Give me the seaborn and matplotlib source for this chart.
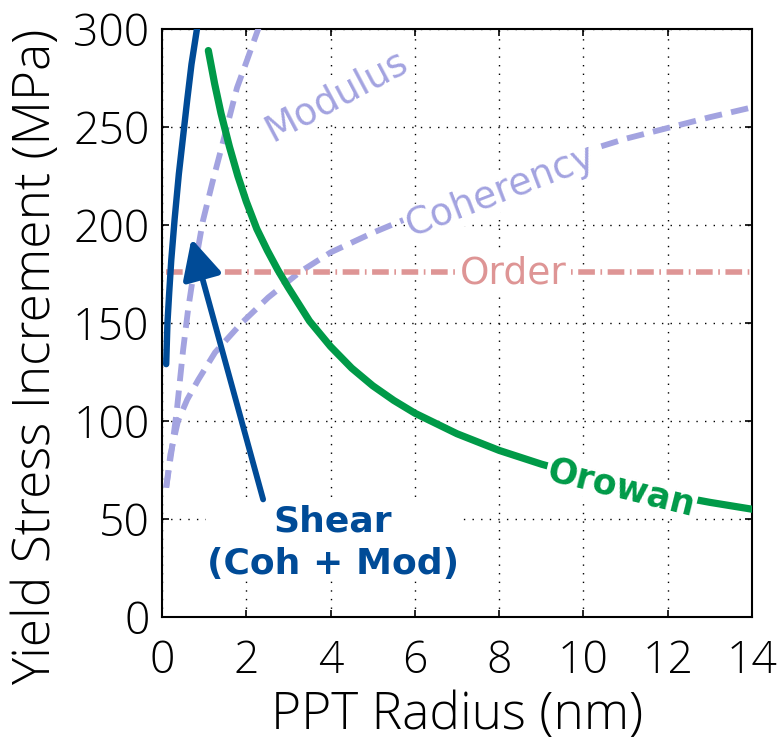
import numpy as np
import pandas as pd
import matplotlib
matplotlib.use("Agg")
import matplotlib.pyplot as plt
import seaborn as sns

# ---- data ----
shear_r = [0.10, 0.13, 0.17, 0.22, 0.30, 0.40, 0.50, 0.60, 0.70, 0.83]
shear_y = [129, 150, 165, 182, 203, 226, 245, 264, 282, 300]

modulus_r = [0.10, 0.23, 0.35, 0.50, 0.62, 0.74, 0.97, 1.20, 1.42, 1.78, 2.00, 2.30]
modulus_y = [66, 85, 105, 136, 157, 174, 202, 222, 240, 270, 283, 301]

coherency_r = [0.10, 0.20, 0.38, 0.60, 0.86, 1.26, 1.89, 2.52, 3.27, 4.0, 5.0, 6.0,
               7.0, 8.0, 9.0, 10.0, 10.4, 11.0, 12.0, 13.0, 14.0]
coherency_y = [66, 83, 100, 111, 121, 135, 150, 163, 176, 186, 196, 205,
               213, 221, 229, 237, 240, 244, 249.5, 255, 260]

order_r = [0.1, 14.0]
order_y = [176, 176]

orowan_r = [1.1, 1.25, 1.4, 1.6, 1.8, 2.0, 2.25, 2.5, 2.75, 3.0, 3.5, 4.0, 4.5,
            5.0, 5.5, 6.0, 7.0, 8.0, 9.0, 10.0, 11.0, 12.0, 13.0, 14.0]
orowan_y = [289, 272, 257, 240, 225, 212, 198, 187, 177, 168, 151, 138, 127,
            118, 110.5, 104, 93.5, 85, 78, 72, 67, 62.5, 58.5, 55]

x_ticks = [0, 2, 4, 6, 8, 10, 12, 14]
y_ticks = [0, 50, 100, 150, 200, 250, 300]

arrow_tail = (2.4, 60)
arrow_head = (0.7, 193)

# ---- colours ----
c_shear = "#004b97"
c_purple = "#a3a3e0"
c_order = "#de9595"
c_orowan = "#009a48"

sns.set_theme(style="white")
plt.rcParams["font.family"] = ["Open Sans", "DejaVu Sans"]

fig = plt.figure(figsize=(7.78, 7.53), dpi=100)
ax = fig.add_axes([0.2082, 0.1806, 0.7584, 0.7809])

def line(r, y, **kw):
    df = pd.DataFrame({"r": r, "y": y})
    sns.lineplot(data=df, x="r", y="y", ax=ax, estimator=None, sort=False, **kw)

line(modulus_r, modulus_y, color=c_purple, lw=4.2, linestyle=(0, (3.0, 1.6)), zorder=3)
line(coherency_r, coherency_y, color=c_purple, lw=4.2, linestyle=(0, (3.0, 1.6)), zorder=3)
line(order_r, order_y, color=c_order, lw=4.0, linestyle=(0, (3.0, 1.0, 0.3, 1.0)), zorder=3)
line(orowan_r, orowan_y, color=c_orowan, lw=5.2, zorder=4)
line(shear_r, shear_y, color=c_shear, lw=4.6, zorder=5)

ax.annotate("", xy=arrow_head, xytext=arrow_tail,
            arrowprops=dict(arrowstyle="-|>,head_length=1.0,head_width=0.5",
                            lw=4.2, color=c_shear, shrinkA=0, shrinkB=0,
                            mutation_scale=24),
            zorder=6)

bb = dict(facecolor="white", edgecolor="none", pad=1.0)
ax.text(4.13, 266, "Modulus", color=c_purple, fontsize=27, rotation=28,
        ha="center", va="center", family="DejaVu Sans", bbox=bb, zorder=7,
        rotation_mode="anchor")
ax.text(8.05, 217, "Coherency", color=c_purple, fontsize=27, rotation=21,
        ha="center", va="center", family="DejaVu Sans", bbox=bb, zorder=7,
        rotation_mode="anchor")
ax.text(8.33, 175, "Order", color=c_order, fontsize=27, rotation=0,
        ha="center", va="center", family="DejaVu Sans", bbox=bb, zorder=7)
ax.text(10.9, 66, "Orowan", color=c_orowan, fontsize=25, rotation=-14,
        ha="center", va="center", family="DejaVu Sans", fontweight="bold",
        bbox=bb, zorder=7, rotation_mode="anchor")
ax.text(4.06, 38, "Shear\n(Coh + Mod)", color=c_shear, fontsize=26,
        ha="center", va="center", family="DejaVu Sans", fontweight="bold",
        linespacing=1.3, bbox=dict(facecolor="white", edgecolor="none", pad=0.5),
        zorder=7)

ax.set_xlim(0, 14)
ax.set_ylim(0, 300)
ax.set_xticks(x_ticks)
ax.set_yticks(y_ticks)
ax.set_xticklabels([str(t) for t in x_ticks], fontsize=32, fontweight="light", color="black")
ax.set_yticklabels([str(t) for t in y_ticks], fontsize=32, fontweight="light", color="black")
ax.set_xlabel("PPT Radius (nm)", fontsize=37, fontweight="light", labelpad=4, color="black")
ax.set_ylabel("Yield Stress Increment (MPa)", fontsize=37, fontweight="light", color="black")
ax.yaxis.set_label_coords(-0.17, 0.442)

ax.grid(True, color="black", lw=1.0, linestyle=(0, (1.0, 5.2)), zorder=1)
ax.set_axisbelow(True)
ax.tick_params(axis="x", pad=16)
ax.tick_params(axis="y", pad=9)
ax.tick_params(direction="in", length=5, width=1.2, top=True, right=True,
               bottom=True, left=True, colors="black")
for s in ax.spines.values():
    s.set_color("black")
    s.set_linewidth(1.5)
ax.set_facecolor("white")

fig.savefig("out.png", dpi=100, facecolor="white")
